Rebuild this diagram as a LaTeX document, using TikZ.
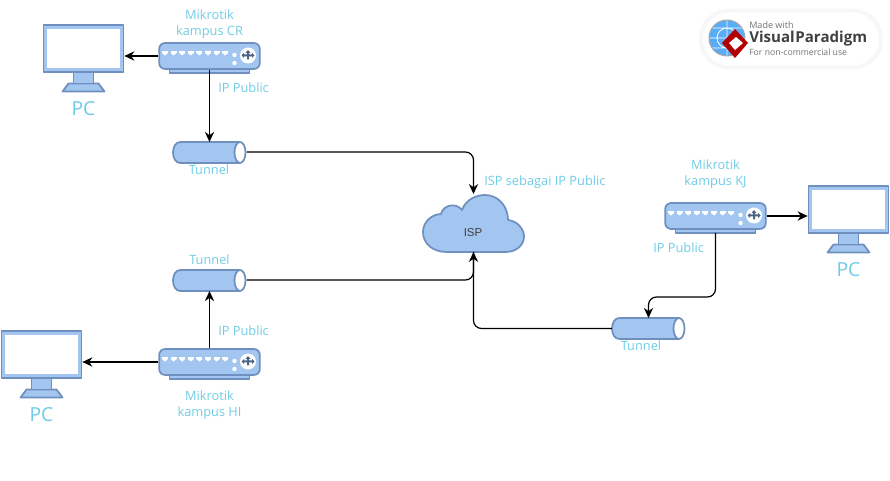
\documentclass[tikz,border=0pt]{standalone}
\usepackage{fontspec}
\setmainfont{Open Sans}
\newfontfamily\arialf{Liberation Sans}
\usetikzlibrary{arrows.meta}
\definecolor{fillb}{HTML}{A3C6F0}
\definecolor{edgeb}{HTML}{6F8FBF}
\definecolor{labc}{HTML}{70CCE6}
\tikzset{
  x=0.75pt,y=-0.75pt,
  lab/.style={text=labc,font=\fontsize{9.6}{12}\selectfont,align=center,inner sep=0pt},
  pclab/.style={text=labc,font=\fontsize{14.5}{16}\selectfont,inner sep=0pt},
  shp/.style={draw=edgeb,fill=fillb,line width=1.3pt,line join=round},
  link/.style={draw=black,line width=0.9pt,-{Stealth[length=7.5pt,width=7pt]},rounded corners=6pt},
  routerbox/.style={shp,rounded corners=4.5pt,minimum width=75.5pt,minimum height=19.5pt,inner sep=0pt},
  tunnelbox/.style={inner sep=0pt,minimum width=54.5pt,minimum height=15.5pt},
  monbox/.style={shp,rectangle,inner sep=0pt,minimum width=60pt,minimum height=35pt},
  cloudbox/.style={inner sep=0pt,minimum width=76pt,minimum height=43pt}
}
% name, x, y of body centre
\newcommand{\routerdraw}[3]{%
  \fill[shp] (#2-40,#3+13) rectangle (#2+40,#3+17);
  \node[routerbox] (#1) at (#2,#3) {};
  \foreach \k in {0,...,7}{\fill[white] (#2-44.5+\k*8.6,#3-0.5) -- ++(-3,-2.5) -- ++(6,0) -- cycle;
    \fill[white] (#2-44.5+\k*8.6-3,#3-5) rectangle ++(6,2.2);}
  \fill[white] (#2+25,#3-1) circle (2.2);
  \fill[white] (#2+25,#3+7) circle (2.2);
  \fill[white] (#2+38.5,#3-0.5) circle (8);
  \fill[edgeb!70!black] (#2+38.5,#3-6) -- ++(2.5,3) -- ++(-1.5,0) -- ++(0,1.5) -- ++(3,0) -- ++(0,-1.5) -- ++(2.5,2.5) -- ++(-2.5,2.5) -- ++(0,-1.5) -- ++(-3,0) -- ++(0,3) -- ++(-2,0) -- ++(0,-3) -- ++(-3,0) -- ++(0,1.5) -- ++(-2.5,-2.5) -- ++(2.5,-2.5) -- ++(0,1.5) -- ++(3,0) -- ++(0,-1.5) -- ++(-1.5,0) -- cycle;
}
% name, x, y of screen centre
\newcommand{\monitordraw}[3]{%
  \filldraw[shp] (#2-10,#3+23) rectangle (#2+10,#3+39);
  \filldraw[shp] (#2-15,#3+35) -- (#2+15,#3+35) -- (#2+21,#3+43) -- (#2-21,#3+43) -- cycle;
  \filldraw[shp] (#2-10,#3+23) rectangle (#2+10,#3+35);
  \node[monbox] (#1) at (#2,#3) {};
  \fill[white] (#2-36.5,#3-19.5) rectangle (#2+36.5,#3+19.5);
}
% name, x, y of centre
\newcommand{\tunneldraw}[3]{%
  \node[tunnelbox] (#1) at (#2,#3) {};
  \filldraw[shp] (#2+30,#3-10.5) -- (#2-29,#3-10.5)
    .. controls (#2-33.5,#3-10.5) and (#2-36.5,#3-6) .. (#2-36.5,#3)
    .. controls (#2-36.5,#3+6) and (#2-33.5,#3+10.5) .. (#2-29,#3+10.5)
    -- (#2+30,#3+10.5) -- cycle;
  \filldraw[draw=edgeb,fill=white,line width=1.3pt] (#2+30.5,#3) ellipse[x radius=5.5,y radius=10.5];
}
\begin{document}
\begin{tikzpicture}
\useasboundingbox (0,0) rectangle (890,481);
\fill[white] (0,0) rectangle (890,481);

% logo
\node[fill=black!3,rounded corners=22pt,minimum width=138pt,minimum height=45pt,inner sep=0pt] (logoshadow) at (791,39) {};
\node[fill=white,rounded corners=20pt,minimum width=132pt,minimum height=40pt,inner sep=0pt] (logo) at (791,39) {};
\fill[fill=fillb!70!cyan!80!blue] (727,38) circle (18);
\draw[white,line width=0.6pt] (727,38) circle (10) (709,38) -- (745,38) (727,20) -- (727,56) (712,28) -- (742,28) (712,48) -- (742,48);
\draw[black!35,line width=0.7pt] (727,38) circle (18);
\fill[red!70!black] (735,29) -- (748,43) -- (735,58) -- (722,43) -- cycle;
\fill[white] (736,37) -- (743,43) -- (735,50) -- (729,43) -- cycle;
\node[anchor=west,inner sep=0pt,text=black!55,font=\fontsize{6.8}{8}\selectfont] (lg1) at (749,25) {Made with};
\node[anchor=west,inner sep=0pt,text=black!75,font=\fontsize{11.3}{14}\bfseries\selectfont] (lg2) at (749,38.5) {Visual\hspace{0.5pt}Paradigm};
\node[anchor=west,inner sep=0pt,text=black!55,font=\fontsize{6.5}{8}\selectfont] (lg3) at (749,52.5) {For non-commercial use};

% devices
\monitordraw{pca}{83.5}{48.5}
\monitordraw{pcb}{848.5}{209.5}
\monitordraw{pcc}{41.5}{354.5}
\routerdraw{rcr}{209.5}{56}
\routerdraw{rkj}{715.5}{216}
\routerdraw{rhi}{209.5}{362}
\tunneldraw{tcr}{209.5}{152.5}
\tunneldraw{thi}{209.5}{280.5}
\tunneldraw{tkj}{648.5}{328.5}

% cloud
\node[cloudbox] (isp) at (473.5,223.5) {};
\filldraw[shp] (447,252)
  .. controls (432,252) and (423,243) .. (423,232)
  .. controls (423,221) and (433,214) .. (441,214)
  .. controls (443,205) and (456,202) .. (462,210)
  .. controls (466,199) and (477,195) .. (485,195)
  .. controls (498,195) and (508,206) .. (508,220)
  .. controls (518,221) and (524,230) .. (524,236)
  .. controls (524,245) and (517,252) .. (505,252) -- cycle;
\node[inner sep=0pt,text=black!75,font=\arialf\fontsize{8.6}{10}\selectfont] (isptext) at (473,232.5) {ISP};

% connectors
\coordinate (ispin) at (473.5,194);
\coordinate (ispbot) at (473.5,252);
\coordinate (tcrr) at (246.5,152);
\coordinate (thir) at (246.5,280);
\coordinate (rkjb) at (715.5,233);
\path[link] (rcr.west) -- (pca.east |- rcr.west);
\path[link] (rcr.south) -- (tcr.north);
\path[link] (tcrr) -| (ispin);
\path[link] (rhi.north) -- (thi.south);
\path[link] (rhi.west) -- (pcc.east |- rhi.west);
\path[link,-] (thir) -| (ispbot);
\path[link] (tkj.west) -| (ispbot);
\path[link] (rkj.east) -- (pcb.west |- rkj.east);
\path[link] (rkjb) -- (715.5,297) -- (648.5,297) -- (tkj.north);

% labels
\node[lab] (lcr) at (209.5,24) {Mikrotik\\kampus CR};
\node[lab,anchor=west] (ipcr) at (218,87.5) {IP Public};
\node[lab] (ltcr) at (209,169.5) {Tunnel};
\node[pclab] (pc1) at (83.5,109) {PC};
\node[lab,anchor=west] (lisp) at (484,182.5) {ISP sebagai IP Public};
\node[lab] (lkj) at (715.5,174) {Mikrotik\\kampus KJ};
\node[lab,anchor=west] (ipkj) at (653,247.5) {IP Public};
\node[pclab] (pc2) at (848.5,270) {PC};
\node[lab] (lthi) at (209.5,259.5) {Tunnel};
\node[lab,anchor=west] (iphi) at (218,330.5) {IP Public};
\node[lab] (ltkj) at (641,345.5) {Tunnel};
\node[lab] (lhi) at (209.5,405) {Mikrotik\\kampus HI};
\node[pclab] (pc3) at (41.5,415) {PC};
\end{tikzpicture}
\end{document}
